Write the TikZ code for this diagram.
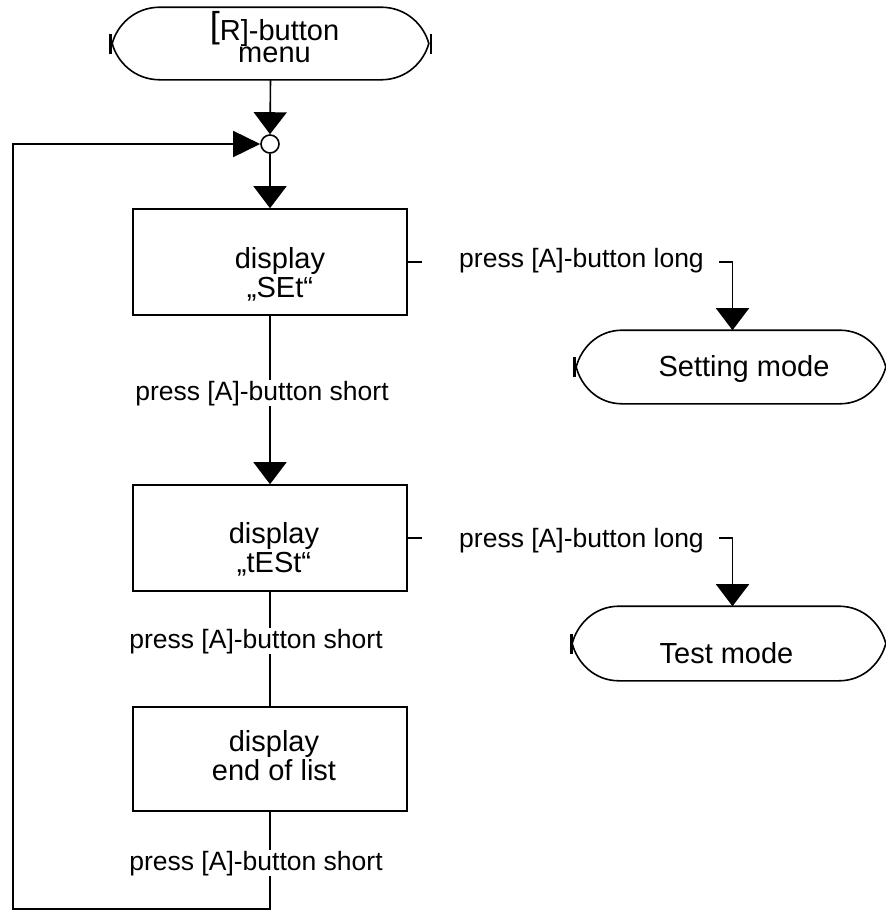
\documentclass[tikz,border=0pt]{standalone}
\usepackage{fontspec}
\setmainfont{Liberation Sans}
\usetikzlibrary{arrows.meta}
\newcommand\twoline[2]{\begin{tabular}[t]{@{}c@{}}#1\\#2\end{tabular}}
% #1 node, #2 end length, #3 half height
\newcommand\termline[3]{%
  \draw ([xshift=#2pt]#1.north west) -- ([xshift=-#2pt]#1.north east)
    .. controls ([xshift=-0.45*#2pt]#1.north east) and ([xshift=-0.1*#2pt,yshift=0.5*#3pt]#1.east) .. (#1.east)
    .. controls ([xshift=-0.1*#2pt,yshift=-0.5*#3pt]#1.east) and ([xshift=-0.45*#2pt]#1.south east) .. ([xshift=-#2pt]#1.south east)
    -- ([xshift=#2pt]#1.south west)
    .. controls ([xshift=0.45*#2pt]#1.south west) and ([xshift=0.1*#2pt,yshift=-0.5*#3pt]#1.west) .. (#1.west)
    .. controls ([xshift=0.1*#2pt,yshift=0.5*#3pt]#1.west) and ([xshift=0.45*#2pt]#1.north west) .. cycle;}
\begin{document}
\begin{tikzpicture}[x=1pt,y=-1pt,line width=1.6pt,
  boxnode/.style={draw,rectangle,minimum width=274pt,minimum height=106pt,inner sep=0pt},
  termshape/.style={rectangle,inner sep=0pt},
  bigtxt/.style={font=\fontsize{29}{29}\selectfont,inner sep=0pt,anchor=base},
  lbl/.style={font=\fontsize{26.5}{28}\selectfont,inner sep=0.5pt,fill=white,anchor=base},
  varr/.style={-{Triangle[length=22pt,width=33pt]}},
  harr/.style={-{Triangle[length=27pt,width=26pt]}},
  tickline/.style={line width=2.6pt}]
\useasboundingbox (0,0) rectangle (886,911);
\fill[white] (0,0) rectangle (886,911);

% top terminal
\node[termshape,minimum width=315pt,minimum height=71pt] (t0) at (270.5,43.5) {};
\termline{t0}{48}{35.5}
\draw[tickline] ([xshift=-2pt,yshift=-10pt]t0.west) -- ([xshift=-2pt,yshift=10pt]t0.west);
\draw[tickline] ([xshift=2pt,yshift=-10pt]t0.east) -- ([xshift=2pt,yshift=10pt]t0.east);
\node[bigtxt,font=\fontsize{29}{22}\selectfont] (t0txt) at (274.5,40) {\twoline{\raisebox{3pt}{\fontsize{36}{36}\selectfont[}R]-button}{menu}};

% junction
\node[draw,circle,minimum size=18pt,inner sep=0pt,fill=white] (j) at (270,144) {};

% boxes
\node[boxnode] (b1) at (270,262) {};
\node[boxnode] (b2) at (270,538) {};
\node[boxnode,minimum height=104pt] (b3) at (270,759) {};
\node[bigtxt] (b1t) at (280,268) {\twoline{display}{„SEt“}};
\node[bigtxt] (b2t) at (274,543) {\twoline{display}{„tESt“}};
\node[bigtxt] (b3t) at (274,751) {\twoline{display}{end of list}};

% right terminals
\node[termshape,minimum width=308pt,minimum height=72pt] (sm) at (731,367) {};
\termline{sm}{46}{36}
\draw[tickline] ([xshift=-2pt,yshift=-10pt]sm.west) -- ([xshift=-2pt,yshift=10pt]sm.west);
\node[bigtxt] (smt) at (744,376) {Setting mode};

\node[termshape,minimum width=312pt,minimum height=73pt] (tm) at (729,643.5) {};
\termline{tm}{47}{36.5}
\draw[tickline] ([xshift=-1pt,yshift=-10pt]tm.west) -- ([xshift=-1pt,yshift=10pt]tm.west);
\node[bigtxt] (tmt) at (726.5,663) {Test mode};

% main flow
\draw[varr] (t0.south) -- (j.north);
\draw[varr] (j.south) -- (b1.north);
\draw[varr] (b1.south) -- (b2.north);
\draw (b2.south) -- (b3.north);
\coordinate (c1) at (270,909);
\coordinate (c2) at (13,909);
\coordinate (c3) at (13,144);
\draw[harr] (b3.south) -- (c1) -- (c2) -- (c3) -- (j.west);

% right branches
\coordinate (s1a) at (422,262);
\coordinate (s1b) at (719,262);
\coordinate (s1c) at (732.5,262);
\draw (b1.east) -- (s1a);
\draw[varr] (s1b) -- (s1c) -- (s1c |- sm.north);
\coordinate (s2a) at (422,538);
\coordinate (s2b) at (719,538);
\coordinate (s2c) at (732.5,538);
\draw (b2.east) -- (s2a);
\draw[varr] (s2b) -- (s2c) -- (s2c |- tm.north);

% labels
\node[lbl] (l1) at (262,400) {press [A]-button short};
\node[lbl] (l2) at (256,648) {press [A]-button short};
\node[lbl] (l3) at (256,870) {press [A]-button short};
\node[lbl] (r1) at (581.5,267) {press [A]-button long};
\node[lbl] (r2) at (581.5,547) {press [A]-button long};
\end{tikzpicture}
\end{document}
